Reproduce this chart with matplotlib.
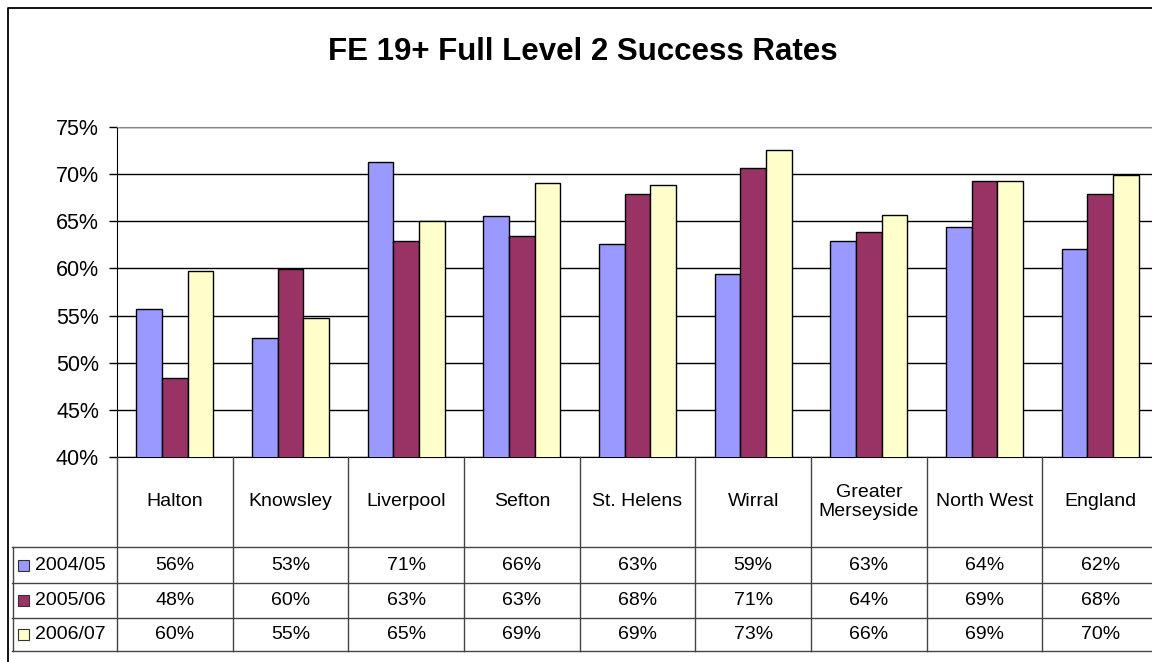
import numpy as np
from matplotlib import pyplot as plt
from matplotlib.lines import Line2D
from matplotlib.patches import Rectangle
from matplotlib.transforms import blended_transform_factory

plt.rcParams['font.family'] = ['Liberation Sans', 'DejaVu Sans']

# chart data
categories = ['Halton', 'Knowsley', 'Liverpool', 'Sefton', 'St. Helens', 'Wirral',
              'Greater\nMerseyside', 'North West', 'England']
series_names = ['2004/05', '2005/06', '2006/07']
rates_0405 = [55.7, 52.6, 71.3, 65.6, 62.6, 59.4, 62.9, 64.4, 62.1]
rates_0506 = [48.4, 59.9, 62.9, 63.4, 67.9, 70.6, 63.9, 69.3, 67.9]
rates_0607 = [59.7, 54.7, 65.0, 69.1, 68.8, 72.6, 65.7, 69.3, 69.9]
colors = ['#9999FF', '#993366', '#FFFFCC']

W, H = 1152, 662
fig = plt.figure(figsize=(W / 100, H / 100), dpi=100)


def fx(px):
    return px / W


def fy(py):
    return 1 - py / H


# plot area, runs a little past the right edge like the reference crop
ax = fig.add_axes([fx(117), fy(457), fx(1158 - 117), (457 - 127) / H])
series = [rates_0405, rates_0506, rates_0607]
x = np.arange(len(categories))
bw = 1 / 4.5
for i, vals in enumerate(series):
    ax.bar(x + (i - 1) * bw, vals, width=bw, color=colors[i],
           edgecolor='black', linewidth=1, zorder=3)

ax.set_xlim(-0.5, len(categories) - 0.5)
ax.set_ylim(40, 75)
ax.set_yticks(np.arange(40, 76, 5))
ax.set_yticklabels([f'{v}%' for v in range(40, 76, 5)], fontsize=15.5)
ax.tick_params(axis='y', direction='out', length=6, width=1, pad=7)
ax.set_xticks([])
ax.grid(axis='y', color='black', linewidth=1)
ax.set_axisbelow(True)
ax.spines['top'].set_color('#888888')
ax.spines['right'].set_visible(False)
ax.spines['left'].set_color('black')
ax.spines['bottom'].set_color('black')

fig.text(fx(583), fy(60), 'FE 19+ Full Level 2 Success Rates', ha='center',
         va='baseline', fontsize=22.5, fontweight='bold')

# data table under the axis
tr = blended_transform_factory(ax.transData, fig.transFigure)
line_kw = dict(color='#444444', linewidth=1, clip_on=False)
for b in np.arange(len(categories) + 1) - 0.5:
    fig.add_artist(Line2D([b, b], [fy(457), fy(651)], transform=tr, **line_kw))
row_y = [547, 583, 618, 651]
for py in row_y:
    fig.add_artist(Line2D([fx(12), 1], [fy(py), fy(py)], transform=fig.transFigure, **line_kw))
fig.add_artist(Line2D([fx(12.5), fx(12.5)], [fy(547), fy(651)], transform=fig.transFigure, **line_kw))

for i, name in enumerate(categories):
    fig.text(i, fy(502), name, transform=tr, ha='center', va='center', fontsize=14)

for r, vals in enumerate(series):
    yc = (row_y[r] + row_y[r + 1]) / 2
    fig.add_artist(Rectangle((fx(18), fy(yc + 5.5)), fx(11), 11 / H, transform=fig.transFigure,
                             facecolor=colors[r], edgecolor='#333333', linewidth=0.8))
    fig.text(fx(35), fy(yc), series_names[r], ha='left', va='center', fontsize=14)
    for i, v in enumerate(vals):
        fig.text(i, fy(yc), f'{v:.0f}%', transform=tr, ha='center', va='center', fontsize=14)

# outer chart border (cut on right and bottom)
fig.add_artist(Line2D([fx(7.5), fx(7.5), 1], [0, fy(8), fy(8)], transform=fig.transFigure,
                      color='black', linewidth=1.3))

fig.savefig('out.png', dpi=100)
